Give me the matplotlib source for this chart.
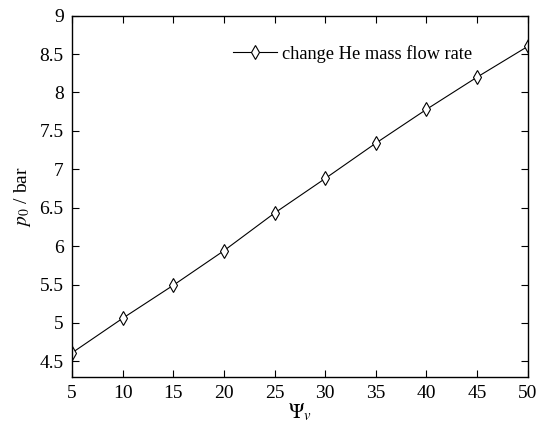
import matplotlib
matplotlib.use("Agg")
import matplotlib.pyplot as plt

psi_v = [5, 10, 15, 20, 25, 30, 35, 40, 45, 50]
p0 = [4.61, 5.06, 5.49, 5.94, 6.43, 6.88, 7.34, 7.78, 8.20, 8.60]
xticks = [5, 10, 15, 20, 25, 30, 35, 40, 45, 50]
yticks = [4.5, 5, 5.5, 6, 6.5, 7, 7.5, 8, 8.5, 9]
ytick_labels = ["4.5", "5", "5.5", "6", "6.5", "7", "7.5", "8", "8.5", "9"]

plt.rcParams['font.family'] = ['Liberation Serif', 'DejaVu Serif']
plt.rcParams['mathtext.fontset'] = 'stix'

fig = plt.figure(figsize=(5.38, 4.23), dpi=100)
ax = fig.add_axes([0.1338, 0.1095, 0.8472, 0.8535])
ax.plot(psi_v, p0, color='black', lw=0.8, marker='d', markersize=7.5,
        markerfacecolor='white', markeredgecolor='black', markeredgewidth=0.8,
        label='change He mass flow rate')
ax.set_xlim(5, 50)
ax.set_ylim(4.3, 9)
ax.set_xticks(xticks)
ax.set_yticks(yticks)
ax.set_yticklabels(ytick_labels)
ax.tick_params(direction='in', top=True, right=True, labelsize=14, length=5, width=0.8, pad=6)
for s in ax.spines.values():
    s.set_linewidth(1.0)
ax.set_xlabel(r'$\Psi_{v}$', fontsize=15, labelpad=0)
ax.set_ylabel(r'$p_0$ / bar', fontsize=14, labelpad=5)
leg = ax.legend(loc='upper right', frameon=False, fontsize=13.2, handlelength=2.4,
                handletextpad=0.3, bbox_to_anchor=(0.907, 0.955), borderaxespad=0.3)
fig.savefig('out.png', dpi=100)
